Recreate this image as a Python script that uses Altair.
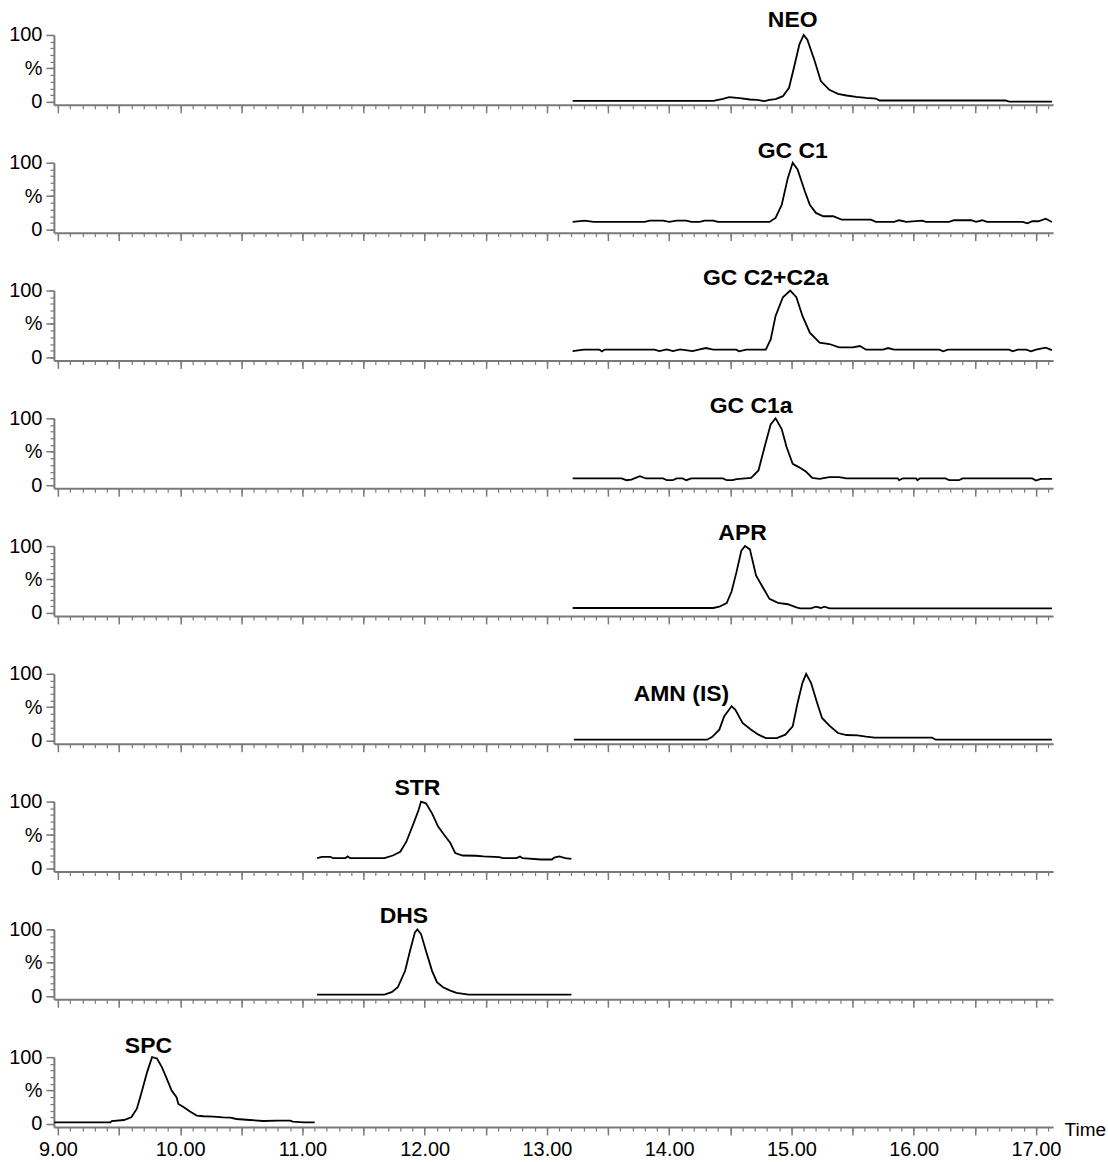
import altair as alt
import pandas as pd

# ---- traces: retention time (min) and relative intensity (%) ----
neo_t = [13.21, 14.36, 14.44, 14.49, 14.575, 14.66, 14.72, 14.78, 14.82, 14.87, 14.93, 14.98,
         15.02, 15.065, 15.10, 15.13, 15.19, 15.24, 15.31, 15.38, 15.45, 15.53, 15.61, 15.69,
         15.72, 16.75, 16.78, 17.13]
neo_v = [1.5, 1.5, 4.5, 7, 5.5, 3.5, 3, 1, 3, 4, 8.5, 21,
         51, 86, 100, 93, 61, 31, 18, 12, 9.5, 7.5, 6, 5,
         2, 2, 0.3, 0.3]

gcc1_t = [13.21, 13.31, 13.38, 13.80, 13.84, 13.95, 14.00, 14.06, 14.14, 14.18, 14.25, 14.29,
          14.36, 14.40, 14.82, 14.87, 14.92, 14.97, 15.01, 15.05, 15.11, 15.15, 15.20, 15.26,
          15.34, 15.41, 15.65, 15.69, 15.84, 15.88, 15.94, 16.07, 16.10, 16.29, 16.33, 16.47,
          16.51, 16.56, 16.60, 16.89, 16.93, 16.97, 17.02, 17.08, 17.13]
gcc1_v = [11.5, 13.5, 11.5, 11.5, 13.5, 13.5, 11.5, 13.5, 13.5, 11.5, 11.5, 13.5,
          13.5, 11.5, 11.5, 17.5, 37, 77, 100, 90, 57, 37, 25, 20,
          20, 15, 15, 11.5, 11.5, 14, 11.5, 13.5, 11.5, 11.5, 14, 14,
          11.5, 14, 11.5, 11.5, 9.5, 12.5, 12.5, 16.4, 11.5]

gcc2_t = [13.21, 13.30, 13.43, 13.45, 13.47, 13.88, 13.92, 13.98, 14.03, 14.09, 14.19, 14.25,
          14.30, 14.36, 14.55, 14.57, 14.63, 14.79, 14.83, 14.87, 14.93, 14.99, 15.04, 15.09,
          15.15, 15.23, 15.31, 15.39, 15.50, 15.56, 15.61, 15.75, 15.79, 15.84, 16.21, 16.24,
          16.28, 16.78, 16.81, 16.85, 16.92, 16.96, 17.00, 17.08, 17.13]
gcc2_v = [9.5, 11.5, 11.5, 9, 11.5, 11.5, 9.5, 12, 9.5, 12, 9.5, 12,
          14, 11.5, 11.5, 9, 11.5, 11.5, 27, 62, 90, 100, 90, 62,
          37, 22, 20, 15, 15, 17, 11.5, 11.5, 14, 11.5, 11.5, 9,
          11.5, 11.5, 9, 11.5, 11.5, 9, 11.5, 14.5, 11]

gcc1a_t = [13.21, 13.61, 13.65, 13.69, 13.76, 13.81, 13.95, 13.98, 14.03, 14.06, 14.11, 14.14,
           14.18, 14.44, 14.47, 14.52, 14.55, 14.67, 14.73, 14.78, 14.83, 14.87, 14.92, 14.96,
           15.01, 15.06, 15.12, 15.17, 15.23, 15.31, 15.39, 15.45, 15.87, 15.88, 15.91, 16.02,
           16.03, 16.05, 16.26, 16.29, 16.37, 16.40, 16.97, 17.00, 17.04, 17.13]
gcc1a_v = [10, 10, 7.4, 8.4, 13.3, 10, 10, 7.4, 7.4, 10, 10, 7.4,
           10, 10, 7.4, 7.4, 8.9, 10.8, 22, 57, 91, 100, 84, 57,
           32, 27, 20, 11, 9.4, 12, 12, 10, 10, 7.4, 10, 10,
           7.4, 10, 10, 7.4, 7.4, 10, 10, 6.9, 9.4, 9.4]

apr_t = [13.21, 14.36, 14.41, 14.47, 14.51, 14.55, 14.59, 14.62, 14.66, 14.71, 14.77, 14.82,
         14.89, 14.97, 15.04, 15.07, 15.16, 15.20, 15.24, 15.27, 15.31, 17.13]
apr_v = [7.4, 7.4, 9.3, 14.7, 32, 61, 93, 100, 95, 56, 37, 21,
         15, 13, 8.3, 6.9, 6.9, 9.3, 7.4, 9.3, 6.9, 6.9]

amn_t = [13.22, 14.31, 14.35, 14.41, 14.45, 14.51, 14.54, 14.60, 14.67, 14.73, 14.79, 14.88,
         14.95, 15.01, 15.05, 15.09, 15.12, 15.16, 15.21, 15.25, 15.31, 15.38, 15.45, 15.54,
         15.61, 15.68, 16.15, 16.18, 17.13]
amn_v = [1.5, 1.5, 5.5, 16.5, 36.5, 51.5, 46.5, 26.5, 16.5, 9, 4, 4,
         9, 21.5, 56.5, 86.5, 100, 86.5, 56.5, 34, 22.5, 11.5, 8.5, 8,
         6, 4.5, 4.5, 1.5, 1.5]

str_t = [11.12, 11.16, 11.23, 11.25, 11.35, 11.37, 11.39, 11.67, 11.74, 11.80, 11.85, 11.91,
         11.95, 11.97, 12.01, 12.06, 12.11, 12.16, 12.21, 12.25, 12.31, 12.42, 12.48, 12.61,
         12.64, 12.75, 12.78, 12.80, 12.95, 13.04, 13.06, 13.10, 13.15, 13.20]
str_v = [15.4, 17.4, 17.4, 15.4, 15.4, 18, 15.4, 15.4, 19.4, 25, 40, 68,
         87.5, 100, 97.5, 82.5, 62.7, 50, 38, 23, 19.4, 19, 18, 17,
         15.4, 15.4, 18, 15.4, 13.4, 13.4, 16.4, 18, 15.4, 14.4]

dhs_t = [11.12, 11.67, 11.73, 11.78, 11.84, 11.88, 11.92, 11.94, 11.97, 12.01, 12.06, 12.10,
         12.15, 12.21, 12.26, 12.36, 13.20]
dhs_v = [2.5, 2.5, 6, 13.4, 38, 68, 95.5, 100, 93, 68, 38, 21,
         13.4, 8.5, 5, 2.5, 2.5]

spc_t = [8.97, 9.43, 9.44, 9.54, 9.60, 9.645, 9.685, 9.73, 9.77, 9.81, 9.85, 9.89,
         9.93, 9.97, 9.985, 10.03, 10.08, 10.135, 10.19, 10.27, 10.35, 10.41, 10.46, 10.57,
         10.68, 10.79, 10.90, 10.92, 11.01, 11.10]
spc_v = [2.5, 2.5, 4.5, 6, 10, 22.6, 47.7, 78, 100, 98, 85, 68,
         50, 40, 30, 25, 18.6, 12.6, 11.6, 11, 10, 9.5, 7.5, 6,
         4.5, 5, 5, 3.5, 2.5, 2.5]

panel_names = ["NEO", "GC C1", "GC C2+C2a", "GC C1a", "APR", "AMN (IS)", "STR", "DHS", "SPC"]
label_t = [15.01, 15.01, 14.79, 14.67, 14.60, 14.10, 11.94, 11.83, 9.74]
label_v = [123, 118, 118, 118, 120, 70, 121, 120, 117]

traces = [(neo_t, neo_v), (gcc1_t, gcc1_v), (gcc2_t, gcc2_v), (gcc1a_t, gcc1a_v),
          (apr_t, apr_v), (amn_t, amn_v), (str_t, str_v), (dhs_t, dhs_v), (spc_t, spc_v)]

x_major = [9 + 0.5 * i for i in range(17)]
x_minor = [round(9 + 0.1 * i, 1) for i in range(82)]
y_major = [0, 50, 100]
y_minor = [10 * i for i in range(11)]

XDOM = [8.967, 17.14]
YDOM = [-4.5, 100]
W, H = 1001, 70
GRAY = "#7a7a7a"
FONT = "Liberation Sans"


def panel(i, bottom):
    t, v = traces[i]
    df = pd.DataFrame({"t": t, "v": v})
    lab = pd.DataFrame({"t": [label_t[i]], "v": [label_v[i]], "name": [panel_names[i]]})
    xs = alt.Scale(domain=XDOM, nice=False, zero=False)
    ys = alt.Scale(domain=YDOM, nice=False, zero=False)

    xaxis_kw = dict(values=x_major, orient="bottom", tickSize=8, labelOverlap=False,
                    labelFlush=False, domainColor=GRAY, domainWidth=2, tickColor=GRAY,
                    tickWidth=1.5, labelFont=FONT, labelFontSize=20, labelColor="black",
                    labelPadding=5)
    if bottom:
        xaxis_kw.update(labels=True,
                        labelExpr="datum.value % 1 == 0 ? format(datum.value, '.2f') : ''",
                        title="Time", titleFont=FONT, titleFontSize=19, titleFontWeight="normal",
                        titleX=W + 11, titleY=2, titleAlign="left", titleBaseline="middle",
                        titleAngle=0, titleColor="black")
    else:
        xaxis_kw.update(labels=False, title="")
    major_x = alt.Axis(**xaxis_kw)
    minor_x = alt.Axis(values=x_minor, orient="bottom", tickSize=4, labels=False, domain=False,
                       tickColor=GRAY, tickWidth=1.2, title="")
    major_y = alt.Axis(values=y_major, orient="left", tickSize=8, domainColor=GRAY, domainWidth=2,
                       tickColor=GRAY, tickWidth=1.5, labelFont=FONT, labelFontSize=20,
                       labelColor="black", labelPadding=4, labelBaseline="middle",
                       labelExpr="datum.value == 50 ? '%' : datum.label", title="")
    minor_y = alt.Axis(values=y_minor, orient="left", tickSize=4, labels=False, domain=False,
                       tickColor=GRAY, tickWidth=1.2, title="")

    line = alt.Chart(df).mark_line(color="black", strokeWidth=1.8).encode(
        x=alt.X("t:Q", scale=xs, axis=major_x),
        y=alt.Y("v:Q", scale=ys, axis=major_y),
    )
    text = alt.Chart(lab).mark_text(font=FONT, fontWeight="bold", fontSize=23,
                                    align="center", baseline="middle", color="black").encode(
        x=alt.X("t:Q", scale=xs, axis=minor_x),
        y=alt.Y("v:Q", scale=ys, axis=minor_y),
        text="name:N",
    )
    return alt.layer(line, text).resolve_axis(x="independent", y="independent").properties(
        width=W, height=H)


panels = [panel(i, i == len(traces) - 1) for i in range(len(traces))]

chart = alt.vconcat(*panels, spacing=58, bounds="flush").configure_view(
    stroke=None
).configure_axis(grid=False).properties(
    padding={"left": 8, "top": 7, "right": 2, "bottom": 4},
    background="white",
)

chart.save("out.html", embed_options={"renderer": "svg", "actions": False})
